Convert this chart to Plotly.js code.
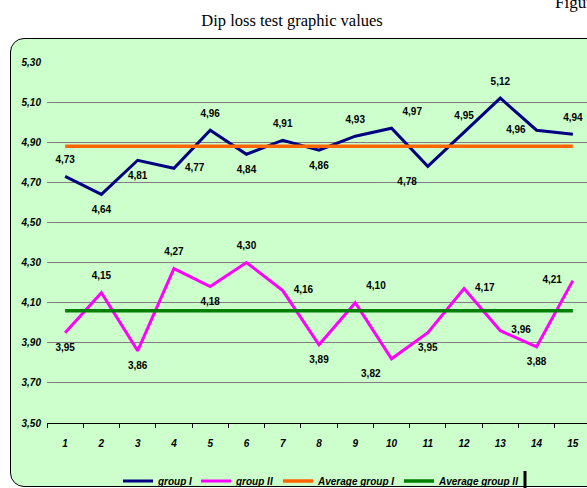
<!DOCTYPE html>
<html>
<head>
<meta charset="utf-8">
<script src="https://cdn.plot.ly/plotly-3.0.1.min.js"></script>
<style>
  html, body { margin:0; padding:0; width:587px; height:488px; overflow:hidden; background:#ffffff; }
  #frame { position:absolute; left:10px; top:38px; width:600px; height:447px; background:#CCFFCC;
           border:1.5px solid #000; border-radius:14px; }
  #fig { position:absolute; left:555px; top:-7px; font-family:'Liberation Serif','Times New Roman',serif;
         font-size:17px; color:#000; white-space:nowrap; }
  #chart { position:absolute; left:0; top:0; width:600px; height:488px; }
</style>
</head>
<body>
<div id="frame"></div>
<div id="fig">Figure</div>
<div id="chart"></div>
<script>
// ---- data ----
const categories = ["1","2","3","4","5","6","7","8","9","10","11","12","13","14","15"];
const groupI  = [4.73, 4.64, 4.81, 4.77, 4.96, 4.84, 4.91, 4.86, 4.93, 4.97, 4.78, 4.95, 5.12, 4.96, 4.94];
const groupII = [3.95, 4.15, 3.86, 4.27, 4.18, 4.30, 4.16, 3.89, 4.10, 3.82, 3.95, 4.17, 3.96, 3.88, 4.21];
const avgGroupI  = [4.88, 4.88, 4.88, 4.88, 4.88, 4.88, 4.88, 4.88, 4.88, 4.88, 4.88, 4.88, 4.88, 4.88, 4.88];
const avgGroupII = [4.06, 4.06, 4.06, 4.06, 4.06, 4.06, 4.06, 4.06, 4.06, 4.06, 4.06, 4.06, 4.06, 4.06, 4.06];
const seriesNames = ["group I", "group II", "Average group I", "Average group II"];
const yTickVals = [3.5, 3.7, 3.9, 4.1, 4.3, 4.5, 4.7, 4.9, 5.1, 5.3];

// label placement (style)
const posI  = ['top center','bottom center','bottom center','middle right','top center','bottom center','top center',
               'bottom center','top center','top right','bottom left','top center','top center','middle left','top center'];
const posII = ['bottom center','top center','bottom center','top center','bottom center','top center','middle right',
               'bottom center','top right','bottom left','bottom center','middle right','middle right','bottom center','middle left'];

const labelFont = {family:"'Liberation Sans Narrow','Arial Narrow','Liberation Sans',Arial,sans-serif", size:10, color:'#000', weight:'bold'};
const axFont = {family:"'Liberation Sans',Arial,sans-serif", size:10, color:'#000', weight:'bold', style:'italic'};

function lineTrace(y, name, color, width, legendId) {
  return {x:categories, y:y, name:name, mode:'lines', line:{color:color, width:width}, hoverinfo:'skip', legend:legendId};
}
function labelTrace(y, pos) {
  return {x:categories, y:y, mode:'markers+text', showlegend:false, marker:{size:16, opacity:0},
          texttemplate:'%{y:.2f}', textposition:pos, textfont:labelFont, cliponaxis:false, hoverinfo:'skip'};
}

const traces = [
  lineTrace(groupI, seriesNames[0], '#000080', 3, 'legend'),
  lineTrace(groupII, seriesNames[1], '#FF00FF', 3, 'legend2'),
  lineTrace(avgGroupI, seriesNames[2], '#FF6600', 3.5, 'legend3'),
  lineTrace(avgGroupII, seriesNames[3], '#008000', 3.5, 'legend4'),
  labelTrace(groupI, posI),
  labelTrace(groupII, posII)
];

function legendAt(px) {
  return {orientation:'h', xref:'container', x:px/600, xanchor:'left', yref:'container', y:1-481/488, yanchor:'middle',
          font:axFont, bgcolor:'rgba(0,0,0,0)', itemwidth:30, itemclick:false, borderwidth:0};
}

const layout = {
  width:600, height:488,
  paper_bgcolor:'rgba(0,0,0,0)', plot_bgcolor:'rgba(0,0,0,0)',
  separators:',.',
  margin:{l:47, r:9, t:62, b:65, pad:0},
  showlegend:true,
  title:{text:'Dip loss test graphic values', x:292/600, xanchor:'center', xref:'container',
         y:1-20/488, yanchor:'middle', yref:'container',
         font:{family:"'Liberation Serif','Times New Roman',serif", size:16.5, color:'#000'}},
  xaxis:{type:'category', range:[-0.5,14.5], tickson:'boundaries', ticks:'outside', ticklen:4, tickcolor:'#000',
         showline:true, linecolor:'#000', linewidth:1, showgrid:false, zeroline:false, tickfont:axFont,
         ticklabelstandoff:11, fixedrange:true},
  yaxis:{range:[3.5,5.3], tickvals:yTickVals, tickformat:'.2f', showgrid:true, gridcolor:'#808080', gridwidth:1,
         showline:false, zeroline:false, ticks:'', tickfont:axFont, ticklabelstandoff:5, fixedrange:true},
  legend:legendAt(118), legend2:legendAt(196), legend3:legendAt(278), legend4:legendAt(399),
  shapes:[{type:'line', xref:'paper', yref:'paper', x0:(525-47)/544, x1:(525-47)/544, y0:-48/361, y1:-66/361,
           line:{color:'#000', width:3}}]
};

Plotly.newPlot('chart', traces, layout, {displayModeBar:false, staticPlot:true});
</script>
</body>
</html>
